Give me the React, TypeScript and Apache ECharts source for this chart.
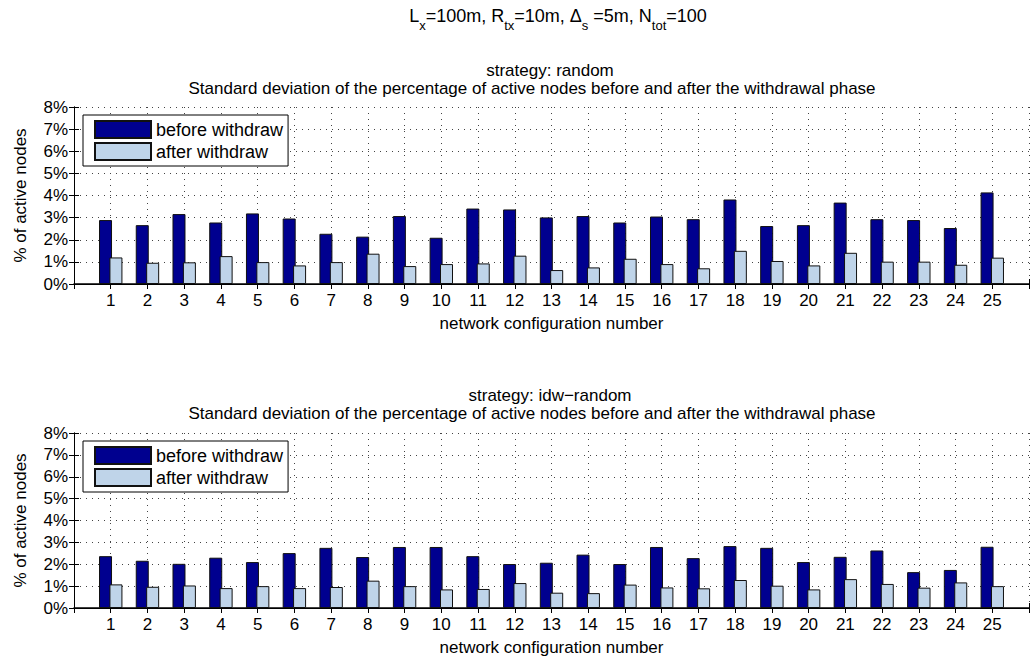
import React, { useEffect, useRef } from "react";
import * as echarts from "echarts";

const categories = Array.from({ length: 25 }, (_, i) => i + 1);

const randomBefore = [2.89, 2.66, 3.16, 2.78, 3.19, 2.96, 2.27, 2.14, 3.07, 2.09, 3.41, 3.37, 3.01, 3.07, 2.78, 3.05, 2.93, 3.82, 2.62, 2.66, 3.68, 2.93, 2.89, 2.53, 4.14];
const randomAfter = [1.2, 0.96, 0.98, 1.26, 0.99, 0.84, 0.99, 1.37, 0.81, 0.9, 0.93, 1.28, 0.63, 0.75, 1.14, 0.9, 0.71, 1.5, 1.04, 0.84, 1.41, 1.01, 1.01, 0.87, 1.19];
const idwBefore = [2.37, 2.16, 2.02, 2.3, 2.1, 2.51, 2.75, 2.33, 2.79, 2.79, 2.37, 2.01, 2.07, 2.44, 2.01, 2.79, 2.28, 2.83, 2.75, 2.1, 2.34, 2.63, 1.64, 1.74, 2.8];
const idwAfter = [1.08, 0.97, 1.03, 0.91, 1.0, 0.91, 0.96, 1.25, 1.0, 0.85, 0.87, 1.14, 0.7, 0.68, 1.07, 0.94, 0.9, 1.28, 1.02, 0.85, 1.32, 1.1, 0.93, 1.17, 1.0];

const seriesNames = ["before withdraw", "after withdraw"];
const yTicks = [0, 1, 2, 3, 4, 5, 6, 7, 8];
const subTitles = ["strategy: random", "strategy: idw\u2212random"];
const descTitle = "Standard deviation of the percentage of active nodes before and after the withdrawal phase";

const FONT = "'Liberation Sans', Arial, Helvetica, sans-serif";
const DARK = "#00008f";
const LIGHT = "#bfd4e9";

export default function App() {
  const ref = useRef<HTMLDivElement>(null);
  useEffect(() => {
    if (!ref.current) return;
    const chart = echarts.init(ref.current, undefined, { renderer: "svg" });
    const grids = [
      { left: 74, top: 107, width: 955, height: 177 },
      { left: 74, top: 433, width: 955, height: 175 },
    ];
    const dotted = { show: true, lineStyle: { color: "#444", type: [1, 5], width: 1 } };
    const xAxes: any[] = [];
    const yAxes: any[] = [];
    grids.forEach((_, g) => {
      xAxes.push({
        type: "value", gridIndex: g, min: 0, max: 26, interval: 1, position: "bottom",
        axisLine: { show: true, lineStyle: { color: "#000", width: 1.5 } },
        axisTick: { show: true, inside: true, length: 5, lineStyle: { color: "#000" } },
        axisLabel: {
          color: "#000", fontSize: 17, fontFamily: FONT, margin: 8,
          formatter: (v: number) => (categories.indexOf(v) >= 0 ? String(v) : ""),
        },
        splitLine: dotted,
        name: "network configuration number", nameLocation: "middle", nameGap: 31,
        nameTextStyle: { color: "#000", fontSize: 17, fontFamily: FONT },
      });
      xAxes.push({
        type: "value", gridIndex: g, min: 0, max: 26, interval: 1, position: "top",
        axisLine: { show: true, lineStyle: { color: "#000", width: 1 } },
        axisTick: { show: true, inside: true, length: 5, lineStyle: { color: "#000" } },
        axisLabel: { show: false }, splitLine: { show: false },
      });
      yAxes.push({
        type: "value", gridIndex: g, min: 0, max: 8, interval: 1, position: "left",
        axisLine: { show: true, lineStyle: { color: "#000", width: 1 } },
        axisTick: { show: true, inside: true, length: 5, lineStyle: { color: "#000" } },
        axisLabel: {
          color: "#000", fontSize: 17, fontFamily: FONT, margin: 6,
          formatter: (v: number) => (yTicks.indexOf(v) >= 0 ? v + "%" : ""),
        },
        splitLine: dotted,
        name: "% of active nodes", nameLocation: "middle", nameGap: 45,
        nameTextStyle: { color: "#000", fontSize: 17, fontFamily: FONT },
      });
      yAxes.push({
        type: "value", gridIndex: g, min: 0, max: 8, interval: 1, position: "right",
        axisLine: { show: true, lineStyle: { color: "#000", width: 1 } },
        axisTick: { show: true, inside: true, length: 5, lineStyle: { color: "#000" } },
        axisLabel: { show: false }, splitLine: { show: false },
      });
    });

    const datasets = [
      [randomBefore, randomAfter],
      [idwBefore, idwAfter],
    ];
    const series: any[] = [];
    datasets.forEach((pair, g) => {
      pair.forEach((vals, k) => {
        series.push({
          type: "bar",
          name: seriesNames[k],
          xAxisIndex: g * 2,
          yAxisIndex: g * 2,
          barWidth: 13,
          barGap: "-20%",
          data: vals.map((v, i) => [categories[i], v]),
          itemStyle: { color: k === 0 ? DARK : LIGHT, borderColor: "#111", borderWidth: 1 },
        });
      });
    });

    const legends = grids.map((gr) => ({
      orient: "vertical",
      left: 83,
      top: gr.top + 8,
      data: seriesNames,
      icon: "rect",
      itemWidth: 56,
      itemHeight: 17,
      itemGap: 3,
      padding: [5, 5, 5, 11],
      borderColor: "#000",
      borderWidth: 1,
      backgroundColor: "#fff",
      textStyle: { color: "#000", fontSize: 18, fontFamily: FONT, padding: [0, 0, 0, 0] },
      selectedMode: false,
    }));

    const graphic: any[] = [
      {
        type: "text", x: 558, y: 16,
        style: {
          text: "{m|L}{s|x}{m|=100m, R}{s|tx}{m|=10m, \u0394}{s|s}{m| =5m, N}{s|tot}{m|=100}",
          textAlign: "center", textVerticalAlign: "middle",
          fontFamily: FONT, fill: "#000",
          rich: {
            m: { fontSize: 18, fontFamily: FONT, fill: "#000" },
            s: { fontSize: 13, fontFamily: FONT, fill: "#000", padding: [18, 0, 0, 0] },
          },
        },
      },
    ];
    [70, 395].forEach((y, g) => {
      graphic.push({
        type: "text", x: 550, y,
        style: { text: subTitles[g], textAlign: "center", textVerticalAlign: "middle", fontSize: 17, fontFamily: FONT, fill: "#000" },
      });
      graphic.push({
        type: "text", x: 532, y: y + 18,
        style: { text: descTitle, textAlign: "center", textVerticalAlign: "middle", fontSize: 17, fontFamily: FONT, fill: "#000" },
      });
    });

    chart.setOption({
      animation: false,
      backgroundColor: "#fff",
      grid: grids,
      xAxis: xAxes,
      yAxis: yAxes,
      series,
      legend: legends,
      graphic,
    });
    return () => chart.dispose();
  }, []);
  return <div ref={ref} style={{ width: 1033, height: 661, position: "absolute", left: 0, top: 0 }} />;
}
